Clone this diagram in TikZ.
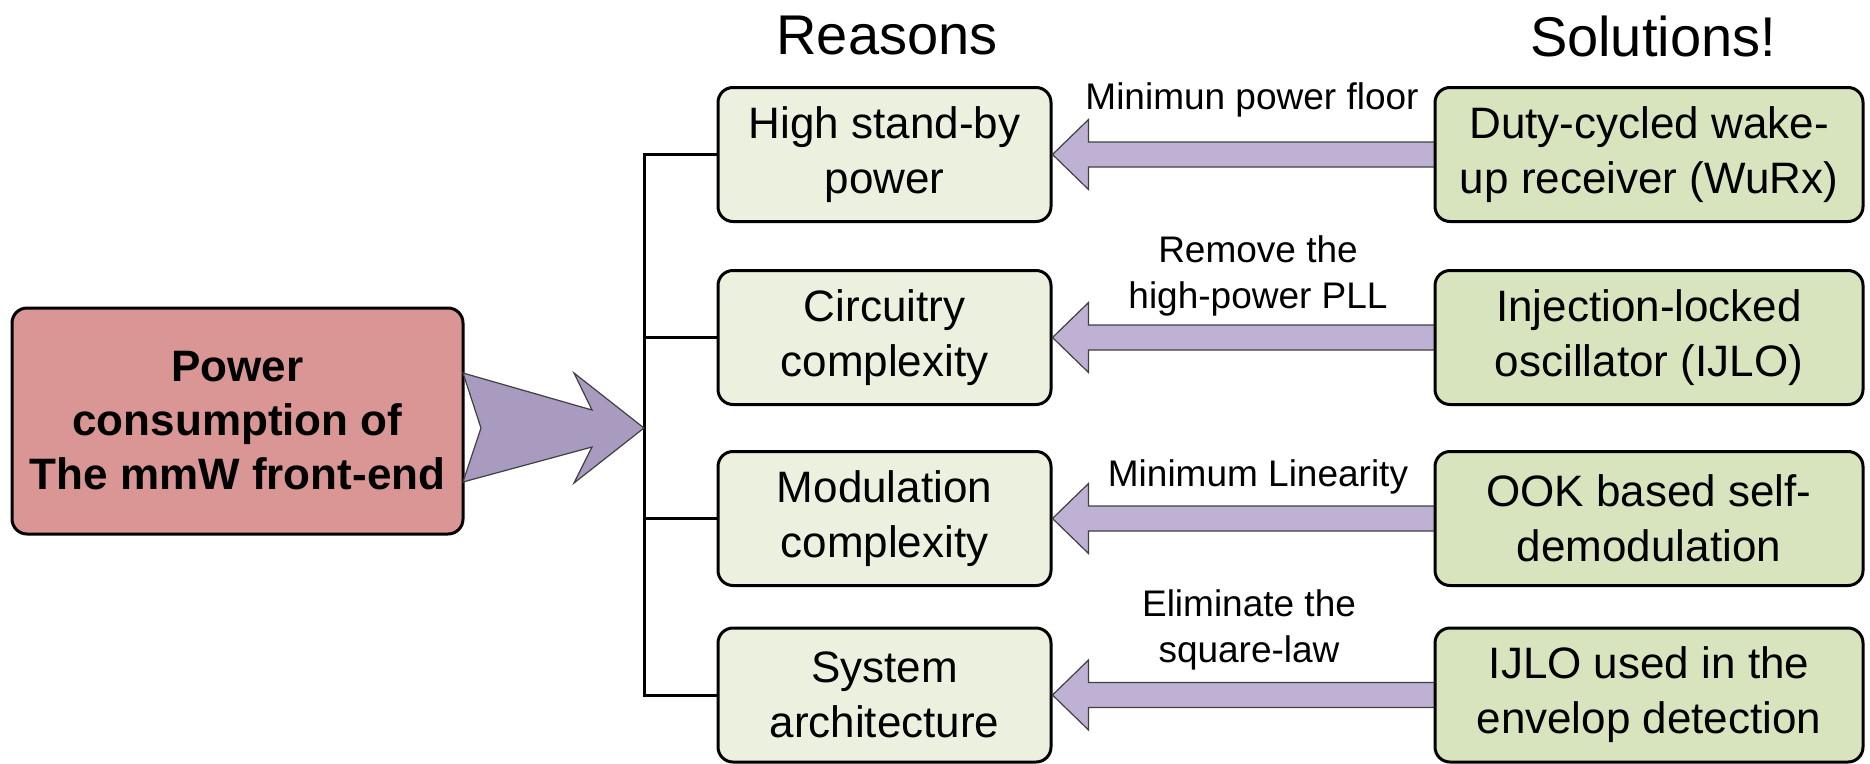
\documentclass[tikz,border=0pt]{standalone}
\usepackage{fontspec}
\setmainfont{Liberation Sans}
\usetikzlibrary{calc}
\definecolor{leftred}{HTML}{D99694}
\definecolor{reasonfill}{HTML}{EBF1DE}
\definecolor{solfill}{HTML}{D7E4BD}
\definecolor{arrowfill}{HTML}{BFB1D4}
\definecolor{bigarrow}{HTML}{A99BC0}
\tikzset{
  boxbase/.style={draw=black, line width=3pt, rounded corners=15pt, align=center, inner sep=0pt},
  rbox/.style={boxbase, fill=reasonfill, minimum width=333pt, minimum height=134pt, font=\fontsize{44}{55}\selectfont},
  sbox/.style={boxbase, fill=solfill, minimum width=428pt, minimum height=134pt, font=\fontsize{44}{55}\selectfont},
  lbox/.style={boxbase, fill=leftred, minimum width=451pt, minimum height=226pt, font=\fontsize{44}{54}\selectfont\bfseries},
  head/.style={font=\fontsize{56}{60}\selectfont, inner sep=0pt},
  lab/.style={font=\fontsize{37}{46}\selectfont, align=center, inner sep=0pt},
  arr/.style={fill=arrowfill, draw=black!75, line width=1.2pt, line join=miter},
  bigarr/.style={fill=bigarrow, draw=black!75, line width=1.2pt, line join=miter},
  spine/.style={draw=black, line width=3pt}
}
\begin{document}
\begin{tikzpicture}[x=1pt,y=-1pt]
\useasboundingbox (0,0) rectangle (1870,763);

% headings
\node[head] (h1) at (887,36) {Reasons};
\node[head] (h2) at (1653,36) {Solutions!};

% left box
\node[lbox] (L) at (237.5,421) {Power\\consumption of\\The mmW front-end};

% reason boxes
\node[rbox] (r1) at (884.5,154.5) {High stand-by\\power};
\node[rbox] (r2) at (884.5,337.5) {Circuitry\\complexity};
\node[rbox] (r3) at (884.5,518.5) {Modulation\\complexity};
\node[rbox] (r4) at (884.5,695) {System\\architecture};

% spine
\coordinate (hub) at (644,428);
\draw[spine] (r1.west) -- (r1.west -| hub) -- (r4.west -| hub) -- (r4.west);
\draw[spine] (r2.west) -- (r2.west -| hub);
\draw[spine] (r3.west) -- (r3.west -| hub);

% big arrow
\draw[bigarr] ($(hub)+(-181,-55)$) -- ($(hub)+(-52,-18)$) -- ($(hub)+(-70,-55)$) -- (hub)
  -- ($(hub)+(-70,55)$) -- ($(hub)+(-52,19)$) -- ($(hub)+(-181,54)$) -- ($(hub)+(-163,0)$) -- cycle;

% arrows from solutions to reasons
\foreach \i in {1,2,3,4}{
  \coordinate (se\i) at (1440,0);
  \draw[arr] ($(se\i |- r\i.east)+(0,-12.5)$) -- ($(r\i.east)+(36,-12.5)$) -- ($(r\i.east)+(36,-35)$) -- (r\i.east)
    -- ($(r\i.east)+(36,35)$) -- ($(r\i.east)+(36,12.5)$) -- ($(se\i |- r\i.east)+(0,12.5)$);
}

% solution boxes
\node[sbox] (s1) at (1649,154.5) {Duty-cycled wake-\\up receiver (WuRx)};
\node[sbox] (s2) at (1649,337.5) {Injection-locked\\oscillator (IJLO)};
\node[sbox] (s3) at (1649,518.5) {OOK based self-\\demodulation};
\node[sbox] (s4) at (1649,695) {IJLO used in the\\envelop detection};

% arrow labels
\node[lab] (t1) at (1252,100) {Minimun power floor};
\node[lab] (t2) at (1258,276) {Remove the\\high-power PLL};
\node[lab] (t3) at (1258,477) {Minimum Linearity};
\node[lab] (t4) at (1249,629.5) {Eliminate the\\square-law};
\end{tikzpicture}
\end{document}
